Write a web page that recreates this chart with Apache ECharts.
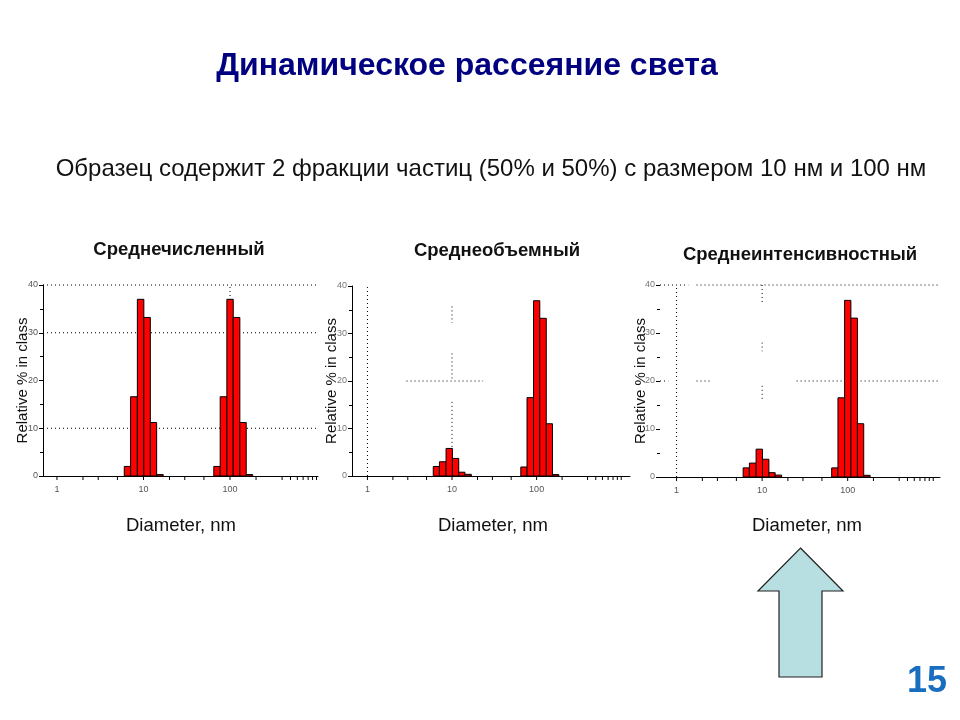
<!DOCTYPE html>
<html><head><meta charset="utf-8">
<script src="https://cdn.jsdelivr.net/npm/echarts@6/dist/echarts.min.js"></script>
<style>html,body{margin:0;padding:0;background:#fff}#c{width:960px;height:720px}</style>
</head><body><div id="c"></div><script>
// ---- data ----
const panelTitles = ['Среднечисленный', 'Среднеобъемный', 'Среднеинтенсивностный'];
const binLow  = [6.0, 7.1, 8.5, 10.1, 12.0, 14.2, 65, 77, 92, 109, 130, 154];
const binHigh = [7.1, 8.5, 10.1, 12.0, 14.2, 16.9, 77, 92, 109, 130, 154, 183];
const numberPct    = [2.0, 16.6, 37.0, 33.2, 11.2, 0.3, 2.0, 16.6, 37.0, 33.2, 11.2, 0.3];
const volumePct    = [2.0, 3.0, 5.8, 3.7, 0.8, 0.35, 1.9, 16.5, 36.9, 33.2, 11.0, 0.3];
const intensityPct = [1.9, 2.9, 5.8, 3.7, 0.9, 0.4, 1.9, 16.5, 36.8, 33.1, 11.1, 0.35];
const xLabelValues = [1, 10, 100];
const xTickValues = [1, 2, 3, 5, 10, 20, 30, 50, 100, 200, 400, 500, 600, 700, 800, 900, 1000];
const xMin = [0.69, 0.657, 0.64];
const xMax = [1040, 1270, 1200];
// dotted grid fragments: [x1, y1, x2, y2]
const gridFrag1 = [[0.69,10,1040,10],[0.69,30,1040,30],[0.69,40,1040,40],[100,0,100,40]];
const gridFrag2 = [[1,0,1,40],[10,35.7,10,32.2],[10,25.8,10,20.2],[10,15.6,10,5.4],[2.9,20,23.3,20]];
const gridFrag3 = [[1,0,1,40],[0.64,40,1.37,40],[1.71,40,1200,40],[0.64,20,0.8,20],[1.71,20,2.57,20],[25.3,20,1200,20],[10,40,10,36.2],[10,28,10,26.2],[10,19,10,16.1]];

// ---- layout ----
const grids = [
  {left: 43, top: 285, width: 275, height: 191},
  {left: 352, top: 286, width: 278, height: 190},
  {left: 660, top: 285, width: 280, height: 192}
];
const nameGaps = [12.5, 12.5, 12];
const values = [numberPct, volumePct, intensityPct];
const frags = [gridFrag1, gridFrag2, gridFrag3];
const font = 'Liberation Sans, Arial, sans-serif';

const xAxes = [], yAxes = [], series = [];
for (let i = 0; i < 3; i++) {
  xAxes.push({
    type: 'log', logBase: 10, gridIndex: i, min: xMin[i], max: xMax[i],
    axisLine: {lineStyle: {color: '#000', width: 1}},
    axisTick: {show: false},
    splitLine: {show: false},
    axisLabel: {
      color: '#555', fontSize: 9, fontFamily: font, margin: 9,
      showMinLabel: true, showMaxLabel: true,
      formatter: v => { const r = Math.round(v); return (Math.abs(v - r) < 1e-6 && xLabelValues.includes(r)) ? String(r) : ''; }
    }
  });
  yAxes.push({
    type: 'value', gridIndex: i, min: 0, max: 40, interval: 10,
    name: 'Relative % in class', nameLocation: 'middle', nameGap: nameGaps[i],
    nameMoveOverlap: false,
    nameTextStyle: {color: '#111', fontSize: 15, fontFamily: font},
    axisLine: {show: i !== 2, lineStyle: {color: '#000', width: 1}},
    axisTick: {show: true, length: 4, lineStyle: {color: '#000'}},
    minorTick: {show: true, splitNumber: 2, length: 3, lineStyle: {color: '#000'}},
    splitLine: {show: false},
    axisLabel: {color: i === 0 ? '#555' : '#777', fontSize: 9, fontFamily: font, margin: 5}
  });
  series.push({
    type: 'custom', xAxisIndex: i, yAxisIndex: i, z: 1, silent: true,
    encode: {x: [0, 2], y: [1, 3]},
    data: frags[i],
    renderItem: (p, api) => {
      const a = api.coord([api.value(0), api.value(1)]);
      const b = api.coord([api.value(2), api.value(3)]);
      return {type: 'line', shape: {x1: a[0], y1: a[1], x2: b[0], y2: b[1]},
        style: {stroke: '#000', lineWidth: 1, lineDash: [1, 3]}};
    }
  });
  series.push({
    type: 'custom', xAxisIndex: i, yAxisIndex: i, z: 5, silent: true,
    encode: {x: 0},
    data: xTickValues.map(v => [v]),
    renderItem: (p, api) => {
      const a = api.coord([api.value(0), 0]);
      return {type: 'line', shape: {x1: a[0], y1: a[1], x2: a[0], y2: a[1] + 4},
        style: {stroke: '#000', lineWidth: 1}};
    }
  });
  series.push({
    type: 'custom', xAxisIndex: i, yAxisIndex: i, z: 3,
    encode: {x: [0, 1], y: 2},
    data: binLow.map((lo, k) => [lo, binHigh[k], values[i][k]]),
    renderItem: (p, api) => {
      const a = api.coord([api.value(0), 0]);
      const b = api.coord([api.value(1), api.value(2)]);
      return {type: 'rect', shape: {x: a[0], y: b[1], width: b[0] - a[0], height: a[1] - b[1]},
        style: {fill: '#FF0000', stroke: '#000', lineWidth: 1}};
    }
  });
}

const chart = echarts.init(document.getElementById('c'), null, {renderer: 'canvas'});
chart.setOption({
  backgroundColor: '#fff',
  animation: false,
  title: [
    {text: 'Динамическое рассеяние света', left: 462, top: 45, textAlign: 'center',
      textStyle: {color: '#000080', fontSize: 32, fontWeight: 'bold', fontFamily: font}},
    {text: 'Образец содержит 2 фракции частиц (50% и 50%) с размером 10 нм и 100 нм', left: 486, top: 152, textAlign: 'center',
      textStyle: {color: '#111', fontSize: 24, fontWeight: 'normal', fontFamily: font}},
    {text: panelTitles[0], left: 174, top: 235, textAlign: 'center', textStyle: {color: '#111', fontSize: 18.5, fontWeight: 'bold', fontFamily: font}},
    {text: panelTitles[1], left: 492, top: 236, textAlign: 'center', textStyle: {color: '#111', fontSize: 18.5, fontWeight: 'bold', fontFamily: font}},
    {text: panelTitles[2], left: 795, top: 240, textAlign: 'center', textStyle: {color: '#111', fontSize: 18.5, fontWeight: 'bold', fontFamily: font}},
    {text: 'Diameter, nm', left: 176, top: 511, textAlign: 'center', textStyle: {color: '#111', fontSize: 18.5, fontWeight: 'normal', fontFamily: font}},
    {text: 'Diameter, nm', left: 488, top: 511, textAlign: 'center', textStyle: {color: '#111', fontSize: 18.5, fontWeight: 'normal', fontFamily: font}},
    {text: 'Diameter, nm', left: 802, top: 511, textAlign: 'center', textStyle: {color: '#111', fontSize: 18.5, fontWeight: 'normal', fontFamily: font}},
    {text: '15', left: 922, top: 659, textAlign: 'center', textStyle: {color: '#1A6EC0', fontSize: 36, fontWeight: 'bold', fontFamily: font}}
  ],
  grid: grids,
  xAxis: xAxes,
  yAxis: yAxes,
  series: series,
  graphic: [{
    type: 'polygon', silent: true,
    shape: {points: [[800.5, 548], [843, 591], [822, 591], [822, 677], [779, 677], [779, 591], [758, 591]]},
    style: {fill: '#B7DEE0', stroke: '#222', lineWidth: 1.2}
  }]
});
</script></body></html>
